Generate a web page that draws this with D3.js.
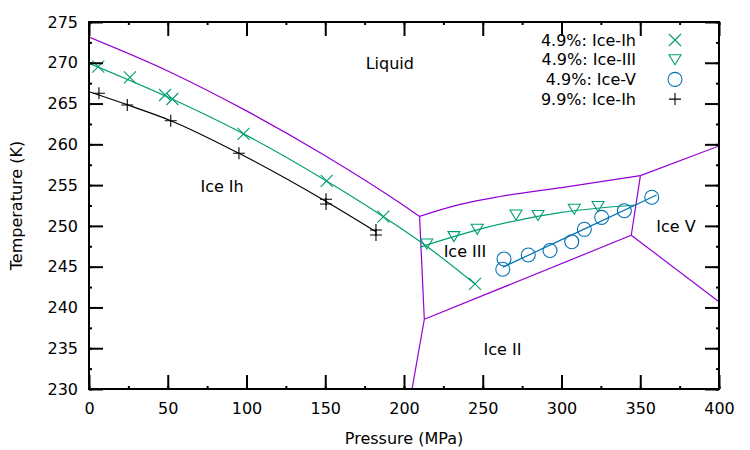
<!DOCTYPE html>
<html>
<head>
<meta charset="utf-8">
<script src="https://cdn.jsdelivr.net/npm/d3@7"></script>
<style>
  body { margin: 0; background: #fff; }
  svg { font-family: "DejaVu Sans", sans-serif; display: block; }
</style>
</head>
<body>
<svg id="chart" width="750" height="450"></svg>
<script>
// measured points, [pressure MPa, temperature K]
const ih49 = [[5.9, 269.52], [26.0, 268.22], [48.3, 266.05], [52.9, 265.56], [98.1, 261.27], [150.9, 255.51], [186.9, 251.13], [245.1, 242.88]];
const iii49 = [[214.4, 247.78], [231.7, 248.68], [246.5, 249.58], [271.1, 251.34], [285.1, 251.28], [308.1, 252.04], [323.2, 252.38]];
const v49 = [[263.5, 245.94], [262.7, 244.68], [278.9, 246.43], [292.7, 246.98], [306.5, 248.06], [314.5, 249.58], [325.5, 251.05], [339.9, 251.86], [357.3, 253.51]];
const ih99 = [[6.3, 266.26], [24.3, 264.82], [51.9, 262.9], [95.2, 258.9], [150.5, 253.26], [150.5, 252.69], [182.2, 249.5], [182.2, 248.88]];

// fitted curves through the data
const ih49Fit = [[0, 269.94], [50, 265.8], [100, 261.1], [150, 255.6], [187, 251.13], [213.3, 247.66], [245.1, 242.88]];
const iii49Fit = [[210.2, 247.4], [250, 249.7], [300, 251.65], [347.3, 252.56]];
const v49Fit = [[262.7, 244.93], [311, 249.3], [360.4, 253.79]];
const ih99Fit = [[0, 266.45], [25, 264.8], [51.9, 262.9], [95.2, 258.9], [150.5, 253.0], [182.2, 249.29]];

// phase boundaries
const meltIh = [[0, 273.15], [50, 269.0], [100, 264.1], [150, 258.6], [197.5, 252.8], [209.9, 251.165]];
const meltIII = [[209.9, 251.165], [235, 252.6], [261, 253.6], [300, 254.7], [350.1, 256.164]];
const meltV = [[350.1, 256.164], [400, 259.8]];
const ihIII = [[209.9, 251.165], [212.9, 238.55]];
const ihII = [[212.9, 238.55], [205.1, 230]];
const iiIII = [[212.9, 238.55], [344.3, 248.85]];
const iiiV = [[344.3, 248.85], [350.1, 256.164]];
const iiV = [[344.3, 248.85], [400, 240.7]];
const boundaries = [meltIh, meltIII, meltV, ihIII, ihII, iiIII, iiiV, iiV];

const phaseLabels = [
  { text: "Liquid", p: 191, t: 270 },
  { text: "Ice Ih", p: 84.5, t: 254.9 },
  { text: "Ice III", p: 238.7, t: 246.9 },
  { text: "Ice V", p: 372.7, t: 250 },
  { text: "Ice II", p: 262.5, t: 234.9 }
];

const xTicks = [0, 50, 100, 150, 200, 250, 300, 350, 400];
const yTicks = [230, 235, 240, 245, 250, 255, 260, 265, 270, 275];

const width = 750, height = 450;
const margin = { top: 22, right: 31, bottom: 61, left: 89 };
const innerWidth = width - margin.left - margin.right;
const innerHeight = height - margin.top - margin.bottom;

const svg = d3.select("#chart");
const g = svg.append("g").attr("transform", `translate(${margin.left},${margin.top})`);

const x = d3.scaleLinear().domain([0, 400]).range([0, innerWidth]);
const y = d3.scaleLinear().domain([230, 275]).range([innerHeight, 0]);

const purple = "#9400d3", green = "#009e73", blue = "#0072b2";

const line = d3.line().x(d => x(d[0])).y(d => y(d[1]));
const smooth = d3.line().x(d => x(d[0])).y(d => y(d[1])).curve(d3.curveMonotoneX);

g.append("clipPath").attr("id", "clip").append("rect")
  .attr("width", innerWidth).attr("height", innerHeight);
const plot = g.append("g").attr("clip-path", "url(#clip)");

boundaries.forEach(b => {
  plot.append("path").datum(b)
    .attr("d", b.length > 2 ? smooth(b) : line(b))
    .attr("fill", "none").attr("stroke", purple).attr("stroke-width", 1.2);
});

plot.append("path").datum(ih49Fit).attr("d", smooth).attr("fill", "none").attr("stroke", green).attr("stroke-width", 1.2);
plot.append("path").datum(iii49Fit).attr("d", smooth).attr("fill", "none").attr("stroke", green).attr("stroke-width", 1.2);
plot.append("path").datum(v49Fit).attr("d", smooth).attr("fill", "none").attr("stroke", blue).attr("stroke-width", 1.2);
plot.append("path").datum(ih99Fit).attr("d", smooth).attr("fill", "none").attr("stroke", "#000").attr("stroke-width", 1.2);

const symbols = {
  cross: "M-6,-6L6,6M-6,6L6,-6",
  tri: "M-6,-5L6,-5L0,5Z",
  circle: "M7,0A7,7 0 1,1 -7,0A7,7 0 1,1 7,0Z",
  plus: "M-6,0L6,0M0,-6L0,6"
};

const series = [
  { label: "4.9%: Ice-Ih", data: ih49, sym: "cross", color: green },
  { label: "4.9%: Ice-III", data: iii49, sym: "tri", color: green },
  { label: "4.9%: Ice-V", data: v49, sym: "circle", color: blue },
  { label: "9.9%: Ice-Ih", data: ih99, sym: "plus", color: "#000" }
];

series.forEach(s => {
  g.append("g").selectAll("path")
    .data(s.data)
    .join("path")
    .attr("transform", d => `translate(${x(d[0])},${y(d[1])})`)
    .attr("d", symbols[s.sym])
    .attr("fill", "none")
    .attr("stroke", s.color)
    .attr("stroke-width", 1.1);
});

phaseLabels.forEach(l => {
  g.append("text")
    .attr("x", x(l.p)).attr("y", y(l.t))
    .attr("dy", "0.36em")
    .attr("text-anchor", "middle")
    .attr("font-size", "16px")
    .attr("fill", "#000")
    .text(l.text);
});

// axes: ticks pointing inward, mirrored on top and right
const xMinor = d3.range(0, 401, 25);
const yMinor = d3.range(230, 275.1, 2.5);

function styleAxis(sel) {
  sel.attr("font-size", 16).attr("font-family", "DejaVu Sans");
  sel.select(".domain").remove();
  sel.selectAll("line").attr("stroke", "#000").attr("stroke-width", 2);
  sel.selectAll("text").attr("fill", "#000");
}
function ticksOnly(sel) {
  styleAxis(sel);
  sel.selectAll("text").remove();
}

g.append("g").attr("transform", `translate(0,${innerHeight})`)
  .call(d3.axisBottom(x).tickValues(xMinor).tickSize(-3).tickSizeOuter(0))
  .call(ticksOnly);
g.append("g")
  .call(d3.axisTop(x).tickValues(xMinor).tickSize(-3).tickSizeOuter(0))
  .call(ticksOnly);
g.append("g")
  .call(d3.axisLeft(y).tickValues(yMinor).tickSize(-3).tickSizeOuter(0))
  .call(ticksOnly);
g.append("g").attr("transform", `translate(${innerWidth},0)`)
  .call(d3.axisRight(y).tickValues(yMinor).tickSize(-3).tickSizeOuter(0))
  .call(ticksOnly);

g.append("g").attr("transform", `translate(0,${innerHeight})`)
  .call(d3.axisBottom(x).tickValues(xTicks).tickSize(-14).tickSizeOuter(0).tickPadding(14).tickFormat(d3.format("d")))
  .call(styleAxis);
g.append("g")
  .call(d3.axisTop(x).tickValues(xTicks).tickSize(-14).tickSizeOuter(0))
  .call(ticksOnly);
g.append("g")
  .call(d3.axisLeft(y).tickValues(yTicks).tickSize(-14).tickSizeOuter(0).tickPadding(11).tickFormat(d3.format("d")))
  .call(styleAxis);
g.append("g").attr("transform", `translate(${innerWidth},0)`)
  .call(d3.axisRight(y).tickValues(yTicks).tickSize(-14).tickSizeOuter(0))
  .call(ticksOnly);

g.append("rect")
  .attr("width", innerWidth).attr("height", innerHeight)
  .attr("fill", "none").attr("stroke", "#000").attr("stroke-width", 2);

// legend
const legend = g.append("g").attr("transform", `translate(0,${40 - margin.top})`);
series.forEach((s, i) => {
  const row = legend.append("g").attr("transform", `translate(0,${i * 19.7})`);
  row.append("text")
    .attr("x", 636 - margin.left).attr("y", 0).attr("dy", "0.36em")
    .attr("text-anchor", "end").attr("font-size", "16px").attr("fill", "#000")
    .text(s.label);
  row.append("path")
    .attr("transform", `translate(${675 - margin.left},0)`)
    .attr("d", symbols[s.sym])
    .attr("fill", "none").attr("stroke", s.color).attr("stroke-width", 1.1);
});

// axis titles
svg.append("text")
  .attr("x", margin.left + innerWidth / 2).attr("y", 444)
  .attr("text-anchor", "middle").attr("font-size", "16px").attr("fill", "#000")
  .text("Pressure (MPa)");
svg.append("text")
  .attr("transform", `translate(22,${margin.top + innerHeight / 2}) rotate(-90)`)
  .attr("text-anchor", "middle").attr("font-size", "16px").attr("fill", "#000")
  .text("Temperature (K)");
</script>
</body>
</html>
